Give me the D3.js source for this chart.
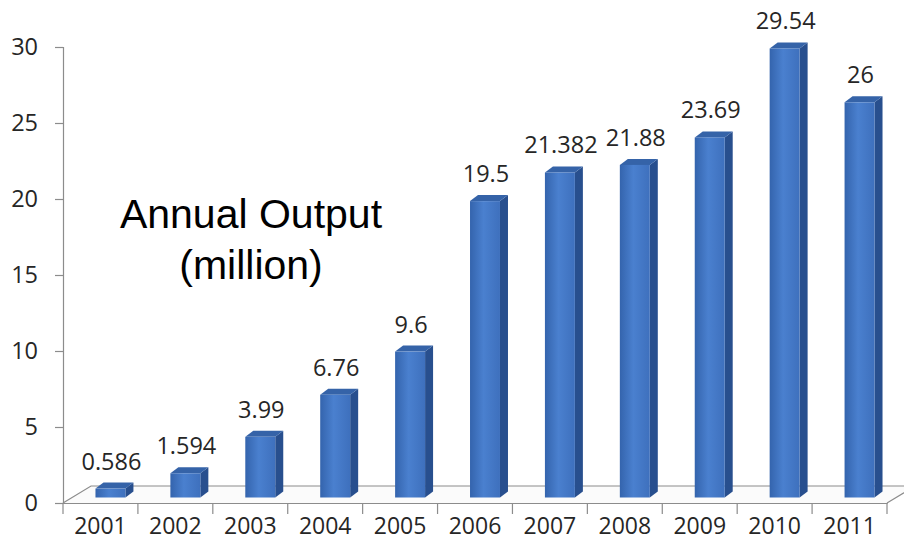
<!DOCTYPE html>
<html>
<head>
<meta charset="utf-8">
<script src="https://cdn.jsdelivr.net/npm/d3@7"></script>
<style>
  html, body { margin: 0; padding: 0; background: #ffffff; }
  svg { display: block; }
  .tick text, .lbl { font-family: "Open Sans", "DejaVu Sans", sans-serif; fill: #262626; }
</style>
</head>
<body>
<div id="chart"></div>
<script>
// Annual output by year (million units)
const years = ["2001", "2002", "2003", "2004", "2005", "2006", "2007", "2008", "2009", "2010", "2011"];
const output = [0.586, 1.594, 3.99, 6.76, 9.6, 19.5, 21.382, 21.88, 23.69, 29.54, 26];
const valueLabels = ["0.586", "1.594", "3.99", "6.76", "9.6", "19.5", "21.382", "21.88", "23.69", "29.54", "26"];
const yTicks = [0, 5, 10, 15, 20, 25, 30];
const titleLines = ["Annual Output", "(million)"];

const W = 904, H = 549;
const svg = d3.select("#chart").append("svg").attr("width", W).attr("height", H);

// Scales
const x = d3.scaleBand().domain(years).range([63, 887]).padding(0);
const y = d3.scaleLinear().domain([0, 30]).range([503, 47]);

// Floor depth (3D effect) and bar geometry
const floorDX = 28, floorDY = 17;
const barW = x.bandwidth() * 0.40;
const barShift = 10;          // bars sit half-way back on the floor
const barLift = 5.5;          // base of bars relative to front edge of floor
const sideDX = 8, sideDY = 6; // bar depth

const defs = svg.append("defs");
const grad = defs.append("linearGradient").attr("id", "barFront")
  .attr("x1", "0").attr("x2", "1").attr("y1", "0").attr("y2", "0");
grad.append("stop").attr("offset", "0%").attr("stop-color", "#3464ad");
grad.append("stop").attr("offset", "45%").attr("stop-color", "#4a80cf");
grad.append("stop").attr("offset", "100%").attr("stop-color", "#3e70bd");

// Floor
const x0 = x.range()[0], x1 = x.range()[1], yf = y(0);
svg.append("path")
  .attr("d", `M${x0},${yf} L${x0 + floorDX},${yf - floorDY} L${x1 + floorDX},${yf - floorDY} L${x1},${yf} Z`)
  .attr("fill", "#fbfbfb").attr("stroke", "none");
svg.append("path")
  .attr("d", `M${x0},${yf} L${x0 + floorDX},${yf - floorDY} L${x1 + floorDX},${yf - floorDY} M${x1},${yf} L${x1 + floorDX},${yf - floorDY}`)
  .attr("fill", "none").attr("stroke", "#8c8c8c").attr("stroke-width", 1.2);

// Y axis
const yAxis = svg.append("g")
  .attr("transform", `translate(${x0},0)`)
  .call(d3.axisLeft(y).tickValues(yTicks).tickSize(8).tickPadding(17).tickFormat(d3.format("d")));
yAxis.selectAll(".domain").attr("stroke", "#8c8c8c").attr("stroke-width", 1.2);
yAxis.selectAll(".tick line").attr("stroke", "#8c8c8c").attr("stroke-width", 1.2);
yAxis.selectAll(".tick text").style("font-size", "23.5px");

// Bars
const bars = svg.append("g").selectAll("g.bar")
  .data(years.map((yr, i) => ({ yr, v: output[i], label: valueLabels[i] })))
  .join("g").attr("class", "bar");

bars.each(function (d) {
  const g = d3.select(this);
  const left = x(d.yr) + x.bandwidth() / 2 + barShift - barW / 2;
  const right = left + barW;
  const base = y(0) - barLift;
  const top = y(d.v) - barLift;
  // side face
  g.append("path")
    .attr("d", `M${right},${top} L${right + sideDX},${top - sideDY} L${right + sideDX},${base - sideDY} L${right},${base} Z`)
    .attr("fill", "#284f8e");
  // top face
  g.append("path")
    .attr("d", `M${left},${top} L${left + sideDX},${top - sideDY} L${right + sideDX},${top - sideDY} L${right},${top} Z`)
    .attr("fill", "#3563a8");
  // front face
  g.append("rect")
    .attr("x", left).attr("y", top)
    .attr("width", barW).attr("height", base - top)
    .attr("fill", "url(#barFront)");
  // value label
  g.append("text").attr("class", "lbl")
    .attr("x", left + barW / 2 + 1)
    .attr("y", top - sideDY - 13)
    .attr("text-anchor", "middle")
    .style("font-size", "23.5px")
    .text(d.label);
});

// X axis (front edge of the floor)
const xAxis = svg.append("g")
  .attr("transform", `translate(0,${yf})`)
  .call(d3.axisBottom(x).tickSize(0).tickPadding(15));
xAxis.selectAll(".domain").attr("stroke", "#8c8c8c").attr("stroke-width", 1.2);
xAxis.selectAll(".tick text").style("font-size", "23px");
// category boundary ticks
xAxis.selectAll("line.sep")
  .data(years.concat([null]))
  .join("line").attr("class", "sep")
  .attr("x1", (d, i) => x0 + i * x.step())
  .attr("x2", (d, i) => x0 + i * x.step())
  .attr("y1", 0).attr("y2", 11)
  .attr("stroke", "#8c8c8c").attr("stroke-width", 1.2);

// Annotation
svg.append("text").attr("class", "note")
  .attr("x", 251).attr("y", 228)
  .attr("text-anchor", "middle")
  .style("font-family", "'Liberation Sans', Arial, sans-serif")
  .style("font-size", "41px").style("fill", "#000")
  .selectAll("tspan").data(titleLines).join("tspan")
  .attr("x", 251).attr("dy", (d, i) => i === 0 ? 0 : 51)
  .text(d => d);
</script>
</body>
</html>
